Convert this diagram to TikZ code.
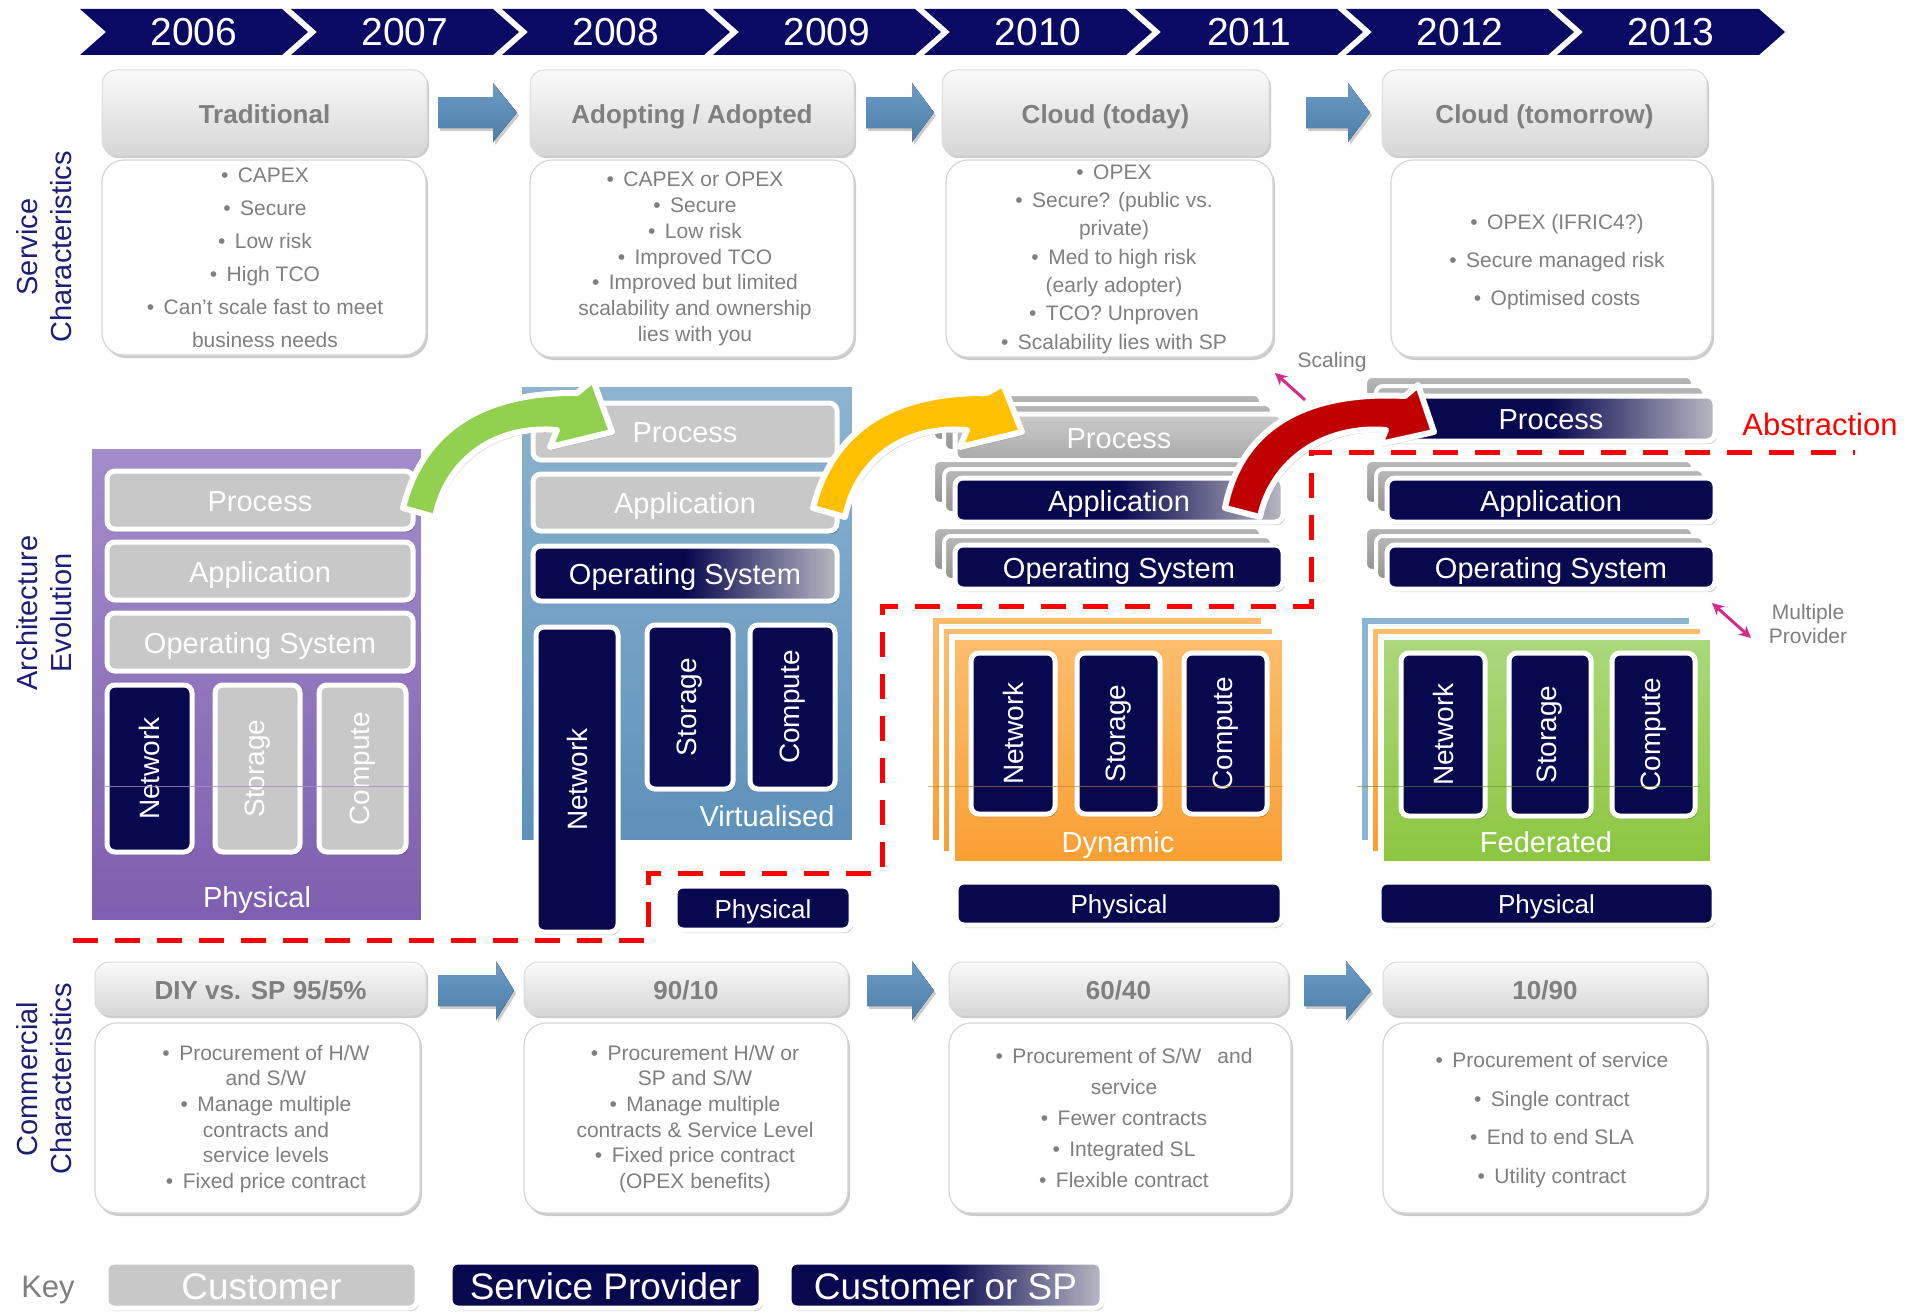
\documentclass[tikz,border=0pt]{standalone}
\usepackage{fontspec}
\setmainfont{Liberation Sans}
\usetikzlibrary{shadows,arrows.meta}
\definecolor{bandnavy}{HTML}{0A0A64}
\definecolor{navy}{HTML}{08084F}
\definecolor{txtgray}{HTML}{7F7F7F}
\definecolor{labnavy}{HTML}{1E1E78}
\definecolor{barg}{HTML}{C8C8C8}
\definecolor{fadegray}{HTML}{B8B8C4}
\definecolor{arrtop}{HTML}{6C9CC5}
\definecolor{arrbot}{HTML}{4C7EA9}
\definecolor{purtop}{HTML}{A48DCA}
\definecolor{purbot}{HTML}{7E5EB0}
\definecolor{blutop}{HTML}{8DB4D1}
\definecolor{blubot}{HTML}{5D91B9}
\definecolor{ortop}{HTML}{FCBD6E}
\definecolor{orbot}{HTML}{F99F32}
\definecolor{grtop}{HTML}{ABD87C}
\definecolor{grbot}{HTML}{8CC63F}
\definecolor{cgreen}{HTML}{92D050}
\definecolor{cyellow}{HTML}{FFC000}
\definecolor{cred}{HTML}{C00000}
\definecolor{magent}{HTML}{D62B8A}
\definecolor{abred}{HTML}{FF0000}

\tikzset{
 shad/.style={drop shadow={shadow xshift=2pt, shadow yshift=-3pt, opacity=0.2, fill=black}},
 capc/.style={text height=#1, text depth=0pt, inner ysep=0pt},
 hdr/.style={rounded corners=14pt, top color=white!98!black, bottom color=white!84!black, draw=white!86!black, line width=1pt, shad},
 bodybox/.style={rounded corners=22pt, fill=white, draw=white!84!black, line width=1.2pt, shad},
 hdrtxt/.style={text=txtgray, capc=18.6pt, font=\fontsize{26}{30}\selectfont\bfseries},
 bodytxt/.style={text=txtgray, align=center, font=\fontsize{21}{#1}\selectfont},
 yrtxt/.style={text=white, capc=27.9pt, font=\fontsize{39}{44}\selectfont},
 side/.style={rotate=90, align=center, text=labnavy, font=\fontsize{29}{34}\selectfont},
 gbar/.style={fill=barg, draw=white, line width=5pt, rounded corners=8pt, shad},
 gbartwo/.style={top color=white!80!black, bottom color=white!66!black, draw=white, line width=5pt, rounded corners=8pt, shad},
 nbar/.style={fill=navy, draw=white, line width=5pt, rounded corners=8pt, shad},
 fbar/.style={left color=navy, right color=fadegray, middle color=navy, draw=white, line width=5pt, rounded corners=8pt, shad},
 cbar/.style={top color=white!72!black, bottom color=white!58!black, draw=white, line width=4pt, rounded corners=7pt},
 btxt/.style={text=white, capc=20.8pt, font=\fontsize{29}{32}\selectfont},
 btxtsm/.style={text=white, capc=18.6pt, font=\fontsize{26}{30}\selectfont},
 vtxt/.style={text=white, rotate=90, font=\fontsize{28}{32}\selectfont},
 purbox/.style={top color=purtop, bottom color=purbot, draw=white, line width=6pt, shad},
 blubox/.style={top color=blutop, bottom color=blubot, draw=white, line width=6pt, shad},
 orbox/.style={top color=ortop, bottom color=orbot, draw=white, line width=6pt, shad},
 orcopy/.style={top color=ortop, bottom color=orbot, draw=white, line width=5pt},
 blcopy/.style={fill=blutop, draw=white, line width=5pt},
 grbox/.style={top color=grtop, bottom color=grbot, draw=white, line width=6pt, shad},
 curv/.style={draw=white, line width=6pt, line join=round, shad},
 small/.style={text=txtgray, font=\fontsize{21}{24}\selectfont},
 ktxt/.style={text=white, capc=26.5pt, font=\fontsize{37}{40}\selectfont},
}

\newcommand\bl{•\hspace{0.45em}}
\newcommand\mybar[8]{\draw[#1] (#2,#3) rectangle (#4,#5); \node[#8] (#6) at ({(#2+#4)/2},{(#3+#5)/2+1}) {#7};}
\newcommand\myvbar[7]{\draw[#1] (#2,#3) rectangle (#4,#5); \node[vtxt] (#6) at ({(#2+#4)/2},{(#3+#5)/2}) {#7};}
\newcommand\mkcopies[7]{\draw[#1] ({#2-2*#6},{#3-2*#7}) rectangle ({#4-2*#6},{#5-2*#7}); \draw[#1] ({#2-#6},{#3-#7}) rectangle ({#4-#6},{#5-#7});}
\newcommand\blarrow[4]{\fill[top color=arrtop, bottom color=arrbot, shad] (#1,#4-15.5) -- (#3,#4-15.5) -- (#3,#4-29.5) -- (#2,#4) -- (#3,#4+29.5) -- (#3,#4+15.5) -- (#1,#4+15.5) -- cycle;}

\begin{document}
\begin{tikzpicture}[x=1pt,y=-1pt]
\useasboundingbox (0,0) rectangle (1919,1314);
\fill[white] (0,0) rectangle (1919,1314);

% ---------- year band
\foreach \i/\yr in {0/2006,1/2007,2/2008,3/2009,4/2010,5/2011,6/2012,7/2013}{
  \pgfmathsetmacro\L{80+211*\i}
  \fill[bandnavy] (\L,9) -- (\L+202,9) -- (\L+228,32) -- (\L+202,55) -- (\L,55) -- (\L+26,32) -- cycle;
  \node[yrtxt] (yr\yr) at (\L+114,31.5) {\yr};
}

% ---------- side labels
\node[side] (lserv) at (44,247) {Service\\Characteristics};
\node[side] (larch) at (44,613) {Architecture\\Evolution};
\node[side] (lcomm) at (44,1079) {Commercial\\Characteristics};

% ---------- service characteristics
\draw[hdr] (102,70) rectangle (427,155);
\node[hdrtxt] (h1) at (264.5,114) {Traditional};
\draw[hdr] (530,70) rectangle (854,155);
\node[hdrtxt] (h2) at (692,114) {Adopting / Adopted};
\draw[hdr] (942,70) rectangle (1269,155);
\node[hdrtxt] (h3) at (1105.5,114) {Cloud (today)};
\draw[hdr] (1382,70) rectangle (1707,155);
\node[hdrtxt] (h4) at (1544.5,114) {Cloud (tomorrow)};

\blarrow{438}{517}{493}{112.5}
\blarrow{866}{934}{912}{112.5}
\blarrow{1306}{1370}{1348}{112.5}

\draw[bodybox] (102,160) rectangle (426,355);
\node[bodytxt=33] (s1) at (265,258) {\bl CAPEX\\\bl Secure\\\bl Low risk\\\bl High TCO\\\bl Can’t scale fast to meet\\business needs};
\draw[bodybox] (530,160) rectangle (854,357);
\node[bodytxt=25.8] (s2) at (695,259) {\bl CAPEX or OPEX\\\bl Secure\\\bl Low risk\\\bl Improved TCO\\\bl Improved but limited\\scalability and ownership\\lies with you};
\draw[bodybox] (946,160) rectangle (1273,357);
\node[bodytxt=28.3] (s3) at (1114,259) {\bl OPEX\\\bl Secure? (public vs.\\private)\\\bl Med to high risk\\(early adopter)\\\bl TCO? Unproven\\\bl Scalability lies with SP};
\draw[bodybox] (1391,160) rectangle (1712,357);
\node[bodytxt=38] (s4) at (1557,262) {\bl OPEX (IFRIC4?)\\\bl Secure managed risk\\\bl Optimised costs};

% ---------- Physical column
\draw[purbox] (89,446) rectangle (424,923);
\mybar{gbar}{107}{471}{413}{529}{p1proc}{Process}{btxt}
\mybar{gbar}{107}{542}{413}{600}{p1app}{Application}{btxt}
\mybar{gbar}{107}{613}{413}{671}{p1os}{Operating System}{btxt}
\myvbar{nbar}{107}{685}{192}{852}{p1net}{Network}
\myvbar{gbar}{215}{685}{300}{852}{p1sto}{Storage}
\myvbar{gbar}{319}{685}{406}{852}{p1com}{Compute}
\draw[purtop, line width=0.8pt, opacity=0.8] (104,786) -- (410,786);
\node[btxt] (p1lab) at (257,897) {Physical};

% ---------- Virtualised column
\draw[blubox] (519,384) rectangle (855,843);
\mybar{gbar}{533}{403}{837}{460}{p2proc}{Process}{btxt}
\mybar{gbar}{533}{474}{837}{531}{p2app}{Application}{btxt}
\mybar{fbar}{533}{546}{837}{601}{p2os}{Operating System}{btxt}
\myvbar{nbar}{536}{627}{618}{932}{p2net}{Network}
\myvbar{nbar}{647}{625}{733}{789}{p2sto}{Storage}
\myvbar{nbar}{750}{625}{835}{789}{p2com}{Compute}
\node[btxt] (p2lab) at (767,816) {Virtualised};
\mybar{nbar}{675}{886}{851}{930}{p2phys}{Physical}{btxtsm}

% ---------- Dynamic column
\mkcopies{cbar}{955}{414}{1283}{461}{11}{10}
\mybar{gbartwo}{955}{414}{1283}{461}{p3proc}{Process}{btxt}
\mkcopies{cbar}{955}{478}{1283}{522}{11}{9}
\mybar{fbar}{955}{478}{1283}{522}{p3app}{Application}{btxt}
\mkcopies{cbar}{955}{545}{1283}{589}{11}{9}
\mybar{nbar}{955}{545}{1283}{589}{p3os}{Operating System}{btxt}
\mkcopies{orcopy}{952}{637}{1285}{864}{11}{11}
\draw[orbox] (952,637) rectangle (1285,864);
\myvbar{nbar}{971}{653}{1055}{814}{p3net}{Network}
\myvbar{nbar}{1077}{653}{1160}{814}{p3sto}{Storage}
\myvbar{nbar}{1184}{653}{1267}{814}{p3com}{Compute}
\draw[orbot!80!black, line width=0.8pt, opacity=0.6] (928,786) -- (1283,786);
\node[btxt] (p3lab) at (1118,842) {Dynamic};
\mybar{nbar}{956}{882}{1282}{925}{p3phys}{Physical}{btxtsm}

% ---------- Federated column
\mkcopies{cbar}{1387}{396}{1715}{441}{11}{10}
\mybar{fbar}{1387}{396}{1715}{441}{p4proc}{Process}{btxt}
\mkcopies{cbar}{1387}{478}{1715}{522}{11}{9}
\mybar{nbar}{1387}{478}{1715}{522}{p4app}{Application}{btxt}
\mkcopies{cbar}{1387}{545}{1715}{589}{11}{9}
\mybar{nbar}{1387}{545}{1715}{589}{p4os}{Operating System}{btxt}
\draw[blcopy] (1359,615) rectangle (1691,842);
\draw[orcopy] (1370,626) rectangle (1702,853);
\draw[grbox] (1381,637) rectangle (1713,864);
\myvbar{nbar}{1401}{653}{1485}{816}{p4net}{Network}
\myvbar{nbar}{1509}{653}{1591}{816}{p4sto}{Storage}
\myvbar{nbar}{1612}{653}{1695}{816}{p4com}{Compute}
\draw[grbot!70!black, line width=0.8pt, opacity=0.6] (1357,786) -- (1700,786);
\node[btxt] (p4lab) at (1546,842) {Federated};
\mybar{nbar}{1379}{882}{1714}{925}{p4phys}{Physical}{btxtsm}

% ---------- scaling arrow (under red arrow)
\coordinate (sca) at (1305,400);
\coordinate (scb) at (1275,373);
\draw[magent, line width=3pt, -{Stealth[length=12pt,width=12pt]}] (sca) -- (scb);
\node[small] (scal) at (1332,362) {Scaling};

% ---------- curved arrows
\draw[curv, fill=cgreen] (403,508) .. controls (420,440) and (470,392) .. (577,393) -- (593,380) -- (612,432) -- (550,447) -- (557,430) .. controls (500,425) and (448,455) .. (435,517) -- cycle;
\draw[curv, fill=cyellow] (813,508) .. controls (830,440) and (880,392) .. (987,393) -- (1003,384) -- (1022,432) -- (960,447) -- (967,430) .. controls (910,425) and (858,455) .. (845,517) -- cycle;
\draw[curv, fill=cred] (1225,508) .. controls (1238,440) and (1290,390) .. (1405,396) -- (1418,385) -- (1434,432) -- (1380,444) -- (1386,430) .. controls (1325,425) and (1272,460) .. (1260,517) -- cycle;

% ---------- abstraction boundary
\coordinate (d0) at (73,940);
\coordinate (d1) at (648,940);
\coordinate (d2) at (648,873);
\coordinate (d3) at (882,873);
\coordinate (d4) at (882,606);
\coordinate (d5) at (1311,606);
\coordinate (d6) at (1311,452);
\coordinate (d7) at (1855,452);
\draw[abred, line width=5pt, dash pattern=on 25pt off 17pt] (d0) -- (d1) -- (d2) -- (d3) -- (d4) -- (d5) -- (d6) -- (d7);
\node[text=abred, capc=22.2pt, font=\fontsize{31}{34}\selectfont] (abs) at (1820,424) {Abstraction};

% ---------- multiple provider
\coordinate (mpa) at (1712,603);
\coordinate (mpb) at (1751,638);
\draw[magent, line width=3pt, {Stealth[length=12pt,width=12pt]}-{Stealth[length=12pt,width=12pt]}] (mpa) -- (mpb);
\node[small, align=center, font=\fontsize{21}{24}\selectfont] (mpl) at (1808,624) {Multiple\\Provider};

% ---------- commercial characteristics
\draw[hdr] (95,962) rectangle (426,1015);
\node[hdrtxt] (c1) at (260.5,990) {DIY vs. SP 95/5\%};
\draw[hdr] (524,962) rectangle (848,1015);
\node[hdrtxt] (c2) at (686,990) {90/10};
\draw[hdr] (949,962) rectangle (1288,1015);
\node[hdrtxt] (c3) at (1118.5,990) {60/40};
\draw[hdr] (1383,962) rectangle (1707,1015);
\node[hdrtxt] (c4) at (1545,990) {10/90};

\blarrow{438}{514}{496}{990.5}
\blarrow{867}{934}{912}{990.5}
\blarrow{1304}{1371}{1346}{990.5}

\draw[bodybox] (95,1023) rectangle (420,1213);
\node[bodytxt=25.7] (cb1) at (266,1119) {\bl Procurement of H/W\\and S/W\\\bl Manage multiple\\contracts and\\service levels\\\bl Fixed price contract};
\draw[bodybox] (524,1023) rectangle (848,1213);
\node[bodytxt=25.7] (cb2) at (695,1119) {\bl Procurement H/W or\\SP and S/W\\\bl Manage multiple\\contracts \& Service Level\\\bl Fixed price contract\\(OPEX benefits)};
\draw[bodybox] (949,1023) rectangle (1291,1213);
\node[bodytxt=31] (cb3) at (1124,1118) {\bl Procurement of S/W\hspace{16pt}and\\service\\\bl Fewer contracts\\\bl Integrated SL\\\bl Flexible contract};
\draw[bodybox] (1383,1023) rectangle (1707,1213);
\node[bodytxt=38.5] (cb4) at (1552,1120) {\bl Procurement of service\\\bl Single contract\\\bl End to end SLA\\\bl Utility contract};

% ---------- key
\node[text=txtgray, capc=22.2pt, font=\fontsize{31}{34}\selectfont] (key) at (48,1286) {Key};
\draw[gbar] (106,1262) rectangle (417,1308);
\node[ktxt] (kcust) at (261.5,1286) {Customer};
\draw[nbar] (450,1262) rectangle (761,1308);
\node[ktxt] (ksp) at (605.5,1286) {Service Provider};
\draw[fbar] (789,1262) rectangle (1102,1308);
\node[ktxt] (kcsp) at (945.5,1286) {Customer or SP};
\end{tikzpicture}
\end{document}
